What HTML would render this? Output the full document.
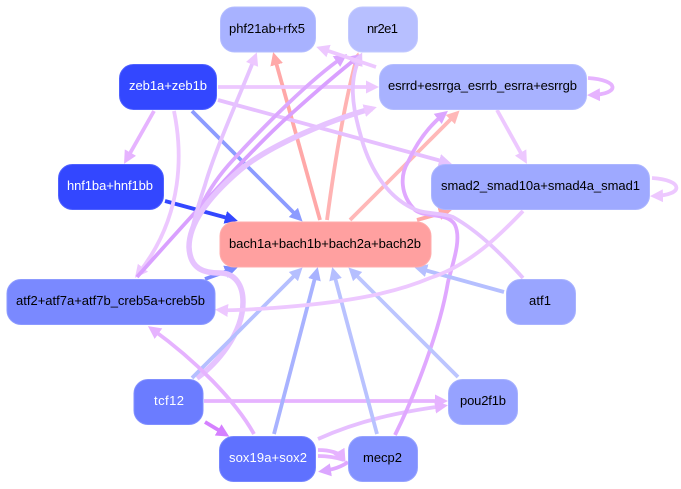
<!DOCTYPE html>
<html>
<head>
<meta charset="utf-8">
<style>
html,body{margin:0;padding:0;background:#fff;}
svg{display:block;}
text{font-family:"Liberation Sans",sans-serif;font-size:13px;text-anchor:start;}
.e{fill:none;stroke-width:3.8;}
rect{stroke-width:1;}
</style>
</head>
<body>
<svg width="681" height="489" viewBox="0 0 681 489" xmlns="http://www.w3.org/2000/svg">
<defs>
<marker id="a" markerUnits="userSpaceOnUse" markerWidth="15" markerHeight="14" refX="8" refY="7" orient="auto"><path d="M0,0.5L13,7L0,13.500z" fill="#e6b3ff"/></marker>
<marker id="b" markerUnits="userSpaceOnUse" markerWidth="15" markerHeight="14" refX="8" refY="7" orient="auto"><path d="M0,0.5L13,7L0,13.500z" fill="#edc8ff"/></marker>
<marker id="c" markerUnits="userSpaceOnUse" markerWidth="15" markerHeight="14" refX="8" refY="7" orient="auto"><path d="M0,0.5L13,7L0,13.500z" fill="#8c9bff"/></marker>
<marker id="d" markerUnits="userSpaceOnUse" markerWidth="15" markerHeight="14" refX="8" refY="7" orient="auto"><path d="M0,0.5L13,7L0,13.500z" fill="#3347ff"/></marker>
<marker id="f" markerUnits="userSpaceOnUse" markerWidth="15" markerHeight="14" refX="8" refY="7" orient="auto"><path d="M0,0.5L13,7L0,13.500z" fill="#ffa8a8"/></marker>
<marker id="g" markerUnits="userSpaceOnUse" markerWidth="15" markerHeight="14" refX="8" refY="7" orient="auto"><path d="M0,0.5L13,7L0,13.500z" fill="#ffb8b8"/></marker>
<marker id="h" markerUnits="userSpaceOnUse" markerWidth="15" markerHeight="14" refX="8" refY="7" orient="auto"><path d="M0,0.5L13,7L0,13.500z" fill="#b5bfff"/></marker>
<marker id="i" markerUnits="userSpaceOnUse" markerWidth="15" markerHeight="14" refX="8" refY="7" orient="auto"><path d="M0,0.5L13,7L0,13.500z" fill="#a8b2ff"/></marker>
<marker id="j" markerUnits="userSpaceOnUse" markerWidth="15" markerHeight="14" refX="8" refY="7" orient="auto"><path d="M0,0.5L13,7L0,13.500z" fill="#d580ff"/></marker>
<marker id="k" markerUnits="userSpaceOnUse" markerWidth="15" markerHeight="14" refX="8" refY="7" orient="auto"><path d="M0,0.5L13,7L0,13.500z" fill="#dba6ff"/></marker>
<marker id="l" markerUnits="userSpaceOnUse" markerWidth="15" markerHeight="14" refX="8" refY="7" orient="auto"><path d="M0,0.5L13,7L0,13.500z" fill="#e6c3ff"/></marker>
<marker id="m" markerUnits="userSpaceOnUse" markerWidth="15" markerHeight="14" refX="8" refY="7" orient="auto"><path d="M0,0.5L13,7L0,13.500z" fill="#7a89ff"/></marker>
</defs>

<!-- edges -->
<path class="e" stroke="#7a89ff" marker-end="url(#m)" d="M205,279L233,269"/>
<path class="e" stroke="#ffa8a8" marker-end="url(#f)" d="M320,220L274.500,57"/>
<path class="e" stroke="#ffb3b3" marker-end="url(#g)" d="M327,220C335,160 345,100 357,57"/>
<path class="e" stroke="#ffb8b8" marker-end="url(#g)" d="M350,220L456,114"/>
<path class="e" stroke="#ffa8a8" marker-end="url(#f)" d="M417,220L447,211.500"/>
<path class="e" stroke="#8c9bff" marker-end="url(#c)" d="M192,111L299,218"/>
<path class="e" stroke="#edc8ff" marker-end="url(#b)" d="M218,87L374,87"/>
<path class="e" stroke="#e6bfff" marker-end="url(#l)" d="M218,100L447,162.500"/>
<path class="e" stroke="#e6b3ff" marker-end="url(#a)" d="M154,111L126.500,159.500"/>
<path class="e" stroke="#3347ff" marker-end="url(#d)" d="M165,201L233,219.500"/>
<path class="e" stroke="#edc8ff" marker-end="url(#b)" d="M174,111C182,150 185,215 138,274"/>
<path class="e" stroke="#d9a0ff" marker-end="url(#k)" d="M137,277C170,240 250,150 290,115C310,97 335,75 358,57"/>
<path class="e" stroke="#dca8ff" marker-end="url(#k)" d="M197,378C215,365 243,335 243,302C243,285 235,273 220,273C205,273 190,270 189,247C190,225 205,190 233,160C265,125 310,80 343,57"/>
<path class="e" stroke="#e6c3ff" marker-end="url(#b)" d="M197,378C215,365 243,335 243,302C243,285 235,273 220,273C205,273 190,270 189,247C190,235 195,215 205,185C215,150 240,95 255,57"/>
<path class="e" stroke="#e6c3ff" style="stroke-width:5.500" marker-end="url(#b)" d="M197,378C215,365 243,335 243,302C243,285 235,273 220,273C205,273 190,270 189,247C189,225 205,200 240,170C270,145 330,120 372,108.500"/>
<path class="e" stroke="#b5bfff" marker-end="url(#h)" d="M192,378L299,271"/>
<path class="e" stroke="#d580ff" marker-end="url(#j)" d="M205,422L225,434"/>
<path class="e" stroke="#e6b3ff" marker-end="url(#a)" d="M204,401L443,401"/>
<path class="e" stroke="#e6b3ff" marker-end="url(#a)" d="M254,434C235,400 195,360 152,329"/>
<path class="e" stroke="#a8b2ff" marker-end="url(#i)" d="M274,434L316.500,272"/>
<path class="e" stroke="#e6bfff" marker-end="url(#a)" d="M318,439C360,420 400,412 443,406"/>
<path class="e" stroke="#e6b3ff" marker-end="url(#a)" d="M318,450C330,450 340,453 343,458"/>
<path class="e" stroke="#e6b3ff" d="M318,456C328,456 338,458 344,460"/>
<path class="e" stroke="#e0a8ff" marker-end="url(#k)" d="M348,462C340,468 330,470 323,471"/>
<path class="e" stroke="#b9c2ff" marker-end="url(#h)" d="M377,434L333.500,272"/>
<path class="e" stroke="#e0a8ff" marker-end="url(#k)" d="M395,435C415,395 440,330 448,282C452,265 462,240 455,225C448,212 425,218 415,210C400,195 400,175 408,162C418,140 430,125 444,114"/>
<path class="e" stroke="#b5bfff" marker-end="url(#h)" d="M504,292L419,268.500"/>
<path class="e" stroke="#e6c3ff" marker-end="url(#l)" d="M523,278C505,258 480,232 453,217C440,212 425,215 412,208C385,195 368,165 360,133C352,105 349,80 360,57"/>
<path class="e" stroke="#bcc5ff" marker-end="url(#h)" d="M458,377L352,271"/>
<path class="e" stroke="#edc8ff" marker-end="url(#b)" d="M523,211C500,235 470,265 430,278C390,295 340,303 273,308C255,309 235,311 220,310"/>
<path class="e" stroke="#edc8ff" marker-end="url(#b)" d="M497,110L524.500,159.500"/>
<path class="e" stroke="#edc8ff" marker-end="url(#b)" d="M376,67L321,48.500"/>
<path class="e" stroke="#e6b3ff" marker-end="url(#a)" d="M588,78C620,80 620,94 592,95"/>
<path class="e" stroke="#edc8ff" marker-end="url(#b)" d="M652,178C684,180 684,195 655,196"/>

<!-- nodes -->
<rect x="220.500" y="7" width="95" height="45" rx="14" fill="#a8b2ff" stroke="#b4bdff"/>
<rect x="348.500" y="7" width="69" height="45" rx="14" fill="#b7bfff" stroke="#c2c9ff"/>
<rect x="119.500" y="64.500" width="97" height="45" rx="14" fill="#3347ff" stroke="#4f61ff"/>
<rect x="379.500" y="64.500" width="207" height="45" rx="14" fill="#a8b2ff" stroke="#b4bdff"/>
<rect x="58.500" y="164.500" width="105" height="45" rx="14" fill="#3347ff" stroke="#4f61ff"/>
<rect x="431.500" y="164.500" width="218" height="45" rx="14" fill="#9ea9ff" stroke="#acb6ff"/>
<rect x="220" y="222" width="211" height="45" rx="14" fill="#ffa0a0" stroke="#ffadad"/>
<rect x="7" y="279.500" width="208" height="45" rx="14" fill="#7a89ff" stroke="#8c9aff"/>
<rect x="506.500" y="279.500" width="69" height="45" rx="14" fill="#99a5ff" stroke="#a9b3ff"/>
<rect x="134" y="379.500" width="69" height="45" rx="14" fill="#6b7cff" stroke="#808fff"/>
<rect x="448.500" y="379.500" width="69" height="45" rx="14" fill="#96a2ff" stroke="#a6b1ff"/>
<rect x="219.500" y="436.500" width="96" height="45" rx="14" fill="#5f71ff" stroke="#7686ff"/>
<rect x="348.500" y="436.500" width="69" height="45" rx="14" fill="#8291ff" stroke="#96a3ff"/>

<!-- labels -->
<text x="229" y="33" textLength="76" fill="#000">phf21ab+rfx5</text>
<text x="367" y="33" textLength="31" fill="#000">nr2e1</text>
<text x="129" y="90" textLength="78" fill="#fff">zeb1a+zeb1b</text>
<text x="388" y="90" textLength="189" fill="#000">esrrd+esrrga_esrrb_esrra+esrrgb</text>
<text x="67" y="190" textLength="86" fill="#fff">hnf1ba+hnf1bb</text>
<text x="441" y="190" textLength="199" fill="#000">smad2_smad10a+smad4a_smad1</text>
<text x="229" y="248" textLength="192" fill="#000">bach1a+bach1b+bach2a+bach2b</text>
<text x="16" y="305" textLength="189" fill="#000">atf2+atf7a+atf7b_creb5a+creb5b</text>
<text x="529" y="305" textLength="22" fill="#000">atf1</text>
<text x="154" y="405" textLength="30" fill="#fff">tcf12</text>
<text x="460" y="405" textLength="46" fill="#000">pou2f1b</text>
<text x="229" y="462" textLength="78" fill="#fff">sox19a+sox2</text>
<text x="363" y="462" textLength="39" fill="#000">mecp2</text>
</svg>
</body>
</html>
